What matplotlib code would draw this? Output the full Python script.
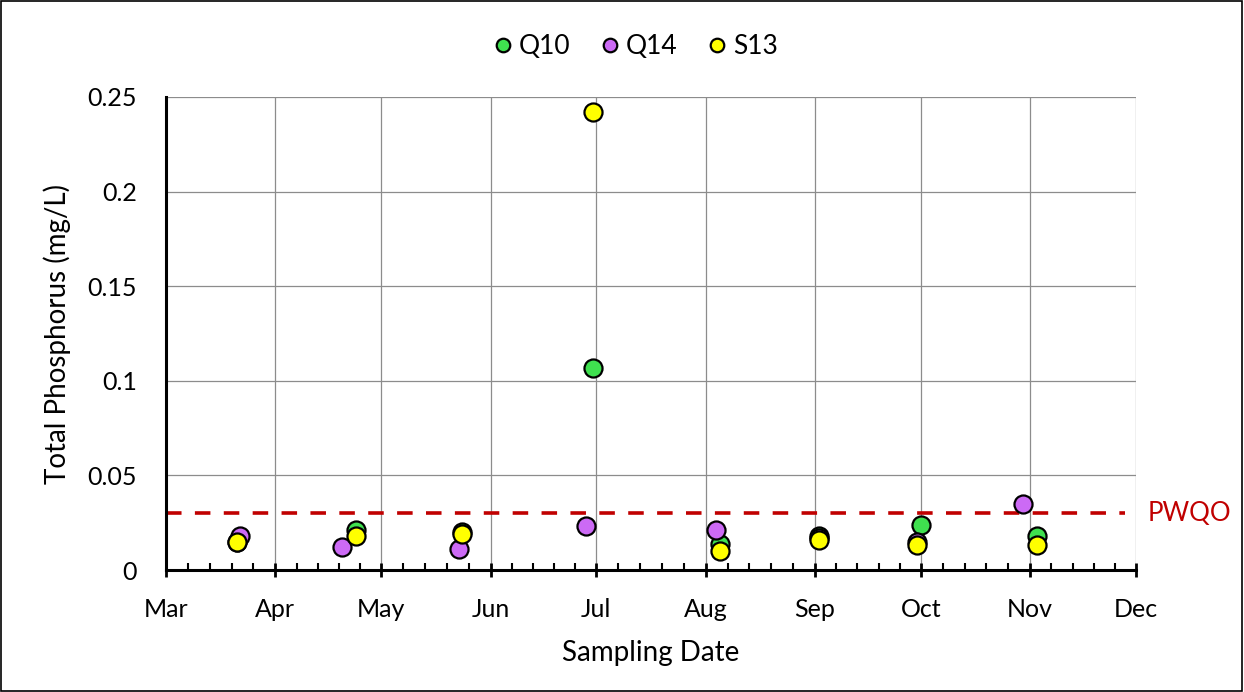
import numpy as np
import matplotlib
matplotlib.use("Agg")
import matplotlib.pyplot as plt
import matplotlib.dates as mdates
from matplotlib.patches import Rectangle
import datetime as dt

plt.rcParams['font.family'] = ['Lato', 'DejaVu Sans']

# Total phosphorus (mg/L) by station and sampling date
q10_dates = ["2021-03-21", "2021-04-24", "2021-05-24", "2021-06-30", "2021-08-05",
             "2021-09-02", "2021-10-01", "2021-11-03"]
q10_tp = [0.015, 0.021, 0.020, 0.107, 0.014, 0.018, 0.024, 0.018]

q14_dates = ["2021-03-22", "2021-04-20", "2021-05-23", "2021-06-28", "2021-08-04",
             "2021-09-02", "2021-09-30", "2021-10-30"]
q14_tp = [0.018, 0.012, 0.011, 0.023, 0.021, 0.017, 0.015, 0.035]

s13_dates = ["2021-03-21", "2021-04-24", "2021-05-24", "2021-06-30", "2021-08-05",
             "2021-09-02", "2021-09-30", "2021-11-03"]
s13_tp = [0.015, 0.018, 0.019, 0.242, 0.010, 0.016, 0.013, 0.013]

pwqo = 0.03
y_ticks = [0, 0.05, 0.1, 0.15, 0.2, 0.25]
y_tick_labels = ["0", "0.05", "0.1", "0.15", "0.2", "0.25"]

series = [
    ("Q10", q10_dates, q10_tp, "#3fe04f"),
    ("Q14", q14_dates, q14_tp, "#cc6af5"),
    ("S13", s13_dates, s13_tp, "#ffff00"),
]

W, H = 1244, 692
fig = plt.figure(figsize=(W / 100, H / 100), dpi=100)
ax = fig.add_axes([166 / W, 1 - 570 / H, (1136 - 166) / W, (570 - 97) / H])

x0 = dt.datetime(2021, 3, 1)
x1 = dt.datetime(2021, 12, 1)

for name, dates, vals, col in series:
    d = [dt.datetime.strptime(s, "%Y-%m-%d") for s in dates]
    ax.plot(d, vals, linestyle="none", marker="o", markersize=13,
            markerfacecolor=col, markeredgecolor="black", markeredgewidth=1.6,
            label=name, zorder=4, clip_on=False)

# PWQO guideline
ax.plot([x0, dt.datetime(2021, 11, 28)], [pwqo, pwqo], color="#c00000",
        linewidth=2.6, dashes=(4.3, 3.7), zorder=3, clip_on=False)
ax.text(1.012, pwqo, "PWQO", transform=ax.get_yaxis_transform(),
        color="#c00000", fontsize=18.5, va="center", ha="left")

ax.set_xlim(x0, x1)
ax.set_ylim(0, 0.25)
ax.set_yticks(y_ticks)
ax.set_yticklabels(y_tick_labels)

month_starts = [dt.datetime(2021, m, 1) for m in range(3, 13)]
ax.set_xticks(month_starts)
ax.xaxis.set_major_formatter(mdates.DateFormatter("%b"))
minor = []
for a, b in zip(month_starts[:-1], month_starts[1:]):
    na, nb = mdates.date2num(a), mdates.date2num(b)
    minor.extend(np.linspace(na, nb, 6)[1:-1])
ax.set_xticks(minor, minor=True)

ax.grid(True, which="major", color="#8c8c8c", linewidth=0.9)
ax.set_axisbelow(True)
for s in ["top", "right"]:
    ax.spines[s].set_visible(False)
for s in ["left", "bottom"]:
    ax.spines[s].set_linewidth(2.2)
    ax.spines[s].set_color("black")
    ax.spines[s].set_zorder(5)

ax.tick_params(axis="x", which="major", direction="inout", length=10, width=2,
               labelsize=18, pad=15)
ax.tick_params(axis="x", which="minor", direction="in", length=5, width=1.5)
ax.tick_params(axis="y", which="major", direction="in", length=0, width=1.5,
               labelsize=18, pad=21)

ax.set_xlabel("Sampling Date", fontsize=20, labelpad=14)
ax.set_ylabel("Total Phosphorus (mg/L)", fontsize=20, labelpad=12)

leg = fig.legend(loc="center", bbox_to_anchor=(634 / W, 1 - 47 / H), ncol=3,
                 frameon=False, fontsize=19, markerscale=0.75,
                 handletextpad=0.1, columnspacing=1.0, handlelength=1.0)

fig.add_artist(Rectangle((0.001, 0.001), 0.997, 0.997, transform=fig.transFigure,
                         fill=False, edgecolor="black", linewidth=1.2))

fig.savefig("out.png", dpi=100, facecolor="white")
